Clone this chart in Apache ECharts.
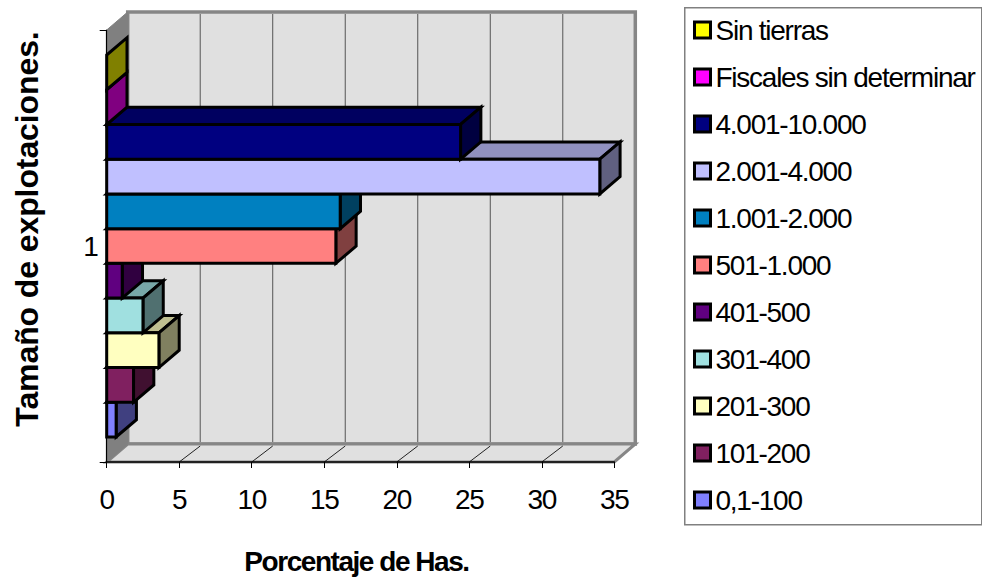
<!DOCTYPE html>
<html>
<head>
<meta charset="utf-8">
<style>
html,body{margin:0;padding:0;background:#fff}
#c{width:982px;height:584px}
svg text{letter-spacing:-1.25px}
</style>
<script src="https://cdn.jsdelivr.net/npm/echarts@6/dist/echarts.min.js"></script>
</head>
<body>
<div id="c"></div>
<script>
const categories = ['0,1-100','101-200','201-300','301-400','401-500','501-1.000','1.001-2.000','2.001-4.000','4.001-10.000','Fiscales sin determinar','Sin tierras'];
const values = [0.65,1.85,3.6,2.5,1.07,15.8,16.1,34.0,24.4,0,0];
const colors = ['#8080FF','#802060','#FFFFC0','#A0E0E0','#600080','#FF8080','#0080C0','#C0C0FF','#000080','#FF00FF','#FFFF00'];
const axisCategory = ['1'];
const xTicks = [0,5,10,15,20,25,30,35];
const xAxisName = 'Porcentaje de Has.';
const yAxisName = 'Tamaño de explotaciones.';

const DX = 21, DY = -18, BAR_DX = 20.3, BAR_DY = -17.3, FILL_RATIO = 0.8843;
const FONT = 'Liberation Sans';

function shade(hex, k){
  const n = parseInt(hex.slice(1),16);
  const c = [(n>>16)&255,(n>>8)&255,n&255].map(v=>Math.round(v*k));
  return 'rgb('+c.join(',')+')';
}
function poly(pts, fill, stroke, lw){
  return {type:'polygon', shape:{points:pts}, style:{fill:fill, stroke:stroke, lineWidth:lw, lineJoin:'miter'}};
}
function line(a,b,stroke,lw){
  return {type:'line', shape:{x1:a[0],y1:a[1],x2:b[0],y2:b[1]}, style:{stroke:stroke, lineWidth:lw}};
}

function renderWalls(params, api){
  const band = api.size([0,1])[1];
  const xMax = xTicks[xTicks.length-1];
  const c = api.coord([0,0]);
  const e = api.coord([xMax,0]);
  const top = c[1]-band/2, bot = c[1]+band/2;
  const L = c[0], R = e[0];
  const W = '#E0E0E0', G = '#868686';
  const kids = [];
  kids.push(poly([[L+DX,top+DY],[R+DX,top+DY],[R+DX,bot+DY],[L+DX,bot+DY]], W, G, 3.5));
  kids.push(poly([[L,bot],[R,bot],[R+DX,bot+DY],[L+DX,bot+DY]], W, G, 3));
  kids.push(poly([[L,top],[L+DX,top+DY],[L+DX,bot+DY],[L,bot]], '#808080', '#808080', 1));
  xTicks.slice(1,-1).forEach(t=>{
    const x = api.coord([t,0])[0];
    kids.push(line([x+DX,top+DY+2],[x+DX,bot+DY-2],'#555',1));
    kids.push(line([x,bot],[x+DX,bot+DY+2],'#222',1));
  });
  return {type:'group', children:kids};
}

function renderBar(params, api){
  const i = params.seriesIndex-1;
  const band = api.size([0,1])[1];
  const h = band*FILL_RATIO/categories.length;
  const v = api.value(0);
  const o = api.coord([0,0]);
  const e = api.coord([v,0]);
  const base = o[1]+band*FILL_RATIO/2 - i*h;
  const t = base-h;
  const col = colors[i];
  const S='#000', LW=3;
  const kids = [];
  const side = [[e[0],t],[e[0]+BAR_DX,t+BAR_DY],[e[0]+BAR_DX,base+BAR_DY],[e[0],base]];
  if (v>0){
    kids.push(poly([[o[0],t],[e[0],t],[e[0]+BAR_DX,t+BAR_DY],[o[0]+BAR_DX,t+BAR_DY]], shade(col,.75), S, LW));
    kids.push(poly(side, shade(col,.5), S, LW));
    kids.push(poly([[o[0],t],[e[0],t],[e[0],base],[o[0],base]], col, S, LW));
  } else {
    kids.push(poly(side, shade(col,.5), S, LW));
  }
  return {type:'group', children:kids};
}

const series = [{
  type:'custom', name:'walls', z:1, silent:true, renderItem:renderWalls,
  encode:{x:0,y:1}, data:[[0,0]]
}].concat(categories.map((name,i)=>({
  type:'custom', name:name, z:2, silent:true, renderItem:renderBar,
  itemStyle:{color:colors[i]}, encode:{x:0,y:1}, data:[[values[i],0]]
})));

const chart = echarts.init(document.getElementById('c'), null, {renderer:'svg'});
chart.setOption({
  animation:false,
  textStyle:{fontFamily:FONT},
  grid:{left:106.7, right:982-614.3, top:30, bottom:584-462, outerBoundsMode:'none'},
  xAxis:{
    type:'value', min:0, max:35, interval:5, z:3,
    name:xAxisName, nameLocation:'center', nameGap:85,
    nameTextStyle:{fontSize:28,fontWeight:'bold',color:'#000',fontFamily:FONT,padding:[0,8,0,0]},
    axisLine:{show:true,onZero:false,lineStyle:{color:'#000',width:1.5}},
    axisTick:{show:true,length:6,lineStyle:{color:'#000',width:1}},
    axisLabel:{fontSize:28,color:'#000',margin:23,fontFamily:FONT},
    splitLine:{show:false}
  },
  yAxis:{
    type:'category', data:axisCategory, z:3,
    name:yAxisName, nameLocation:'center', nameGap:64,
    nameTextStyle:{fontSize:32,fontWeight:'bold',color:'#000',fontFamily:FONT,padding:[0,0,0,34]},
    axisLine:{show:true,lineStyle:{color:'#000',width:1.2}},
    axisTick:{show:true,length:7,lineStyle:{color:'#000',width:1}},
    axisLabel:{fontSize:28,color:'#000',margin:9,fontFamily:FONT},
    splitLine:{show:false}
  },
  legend:{
    data:categories.slice().reverse(), orient:'vertical', left:684, top:7,
    padding:[9,0,0,9], icon:'rect', itemWidth:16, itemHeight:16, itemGap:19,
    selectedMode:false, textStyle:{fontSize:28,color:'#000',padding:[0,0,0,0],fontFamily:FONT},
    itemStyle:{borderColor:'#000',borderWidth:3}
  },
  graphic:[{
    type:'rect', left:684, top:7, z:-1, silent:true,
    shape:{width:297,height:517}, style:{fill:'#fff',stroke:'#808080',lineWidth:1.5}
  }],
  series:series
});
document.querySelectorAll('#c svg text').forEach(el=>{
  if (el.textContent === xAxisName) el.style.letterSpacing = '-1.46px';
  if (el.textContent === yAxisName) el.style.letterSpacing = '-0.1px';
});
</script>
</body>
</html>
